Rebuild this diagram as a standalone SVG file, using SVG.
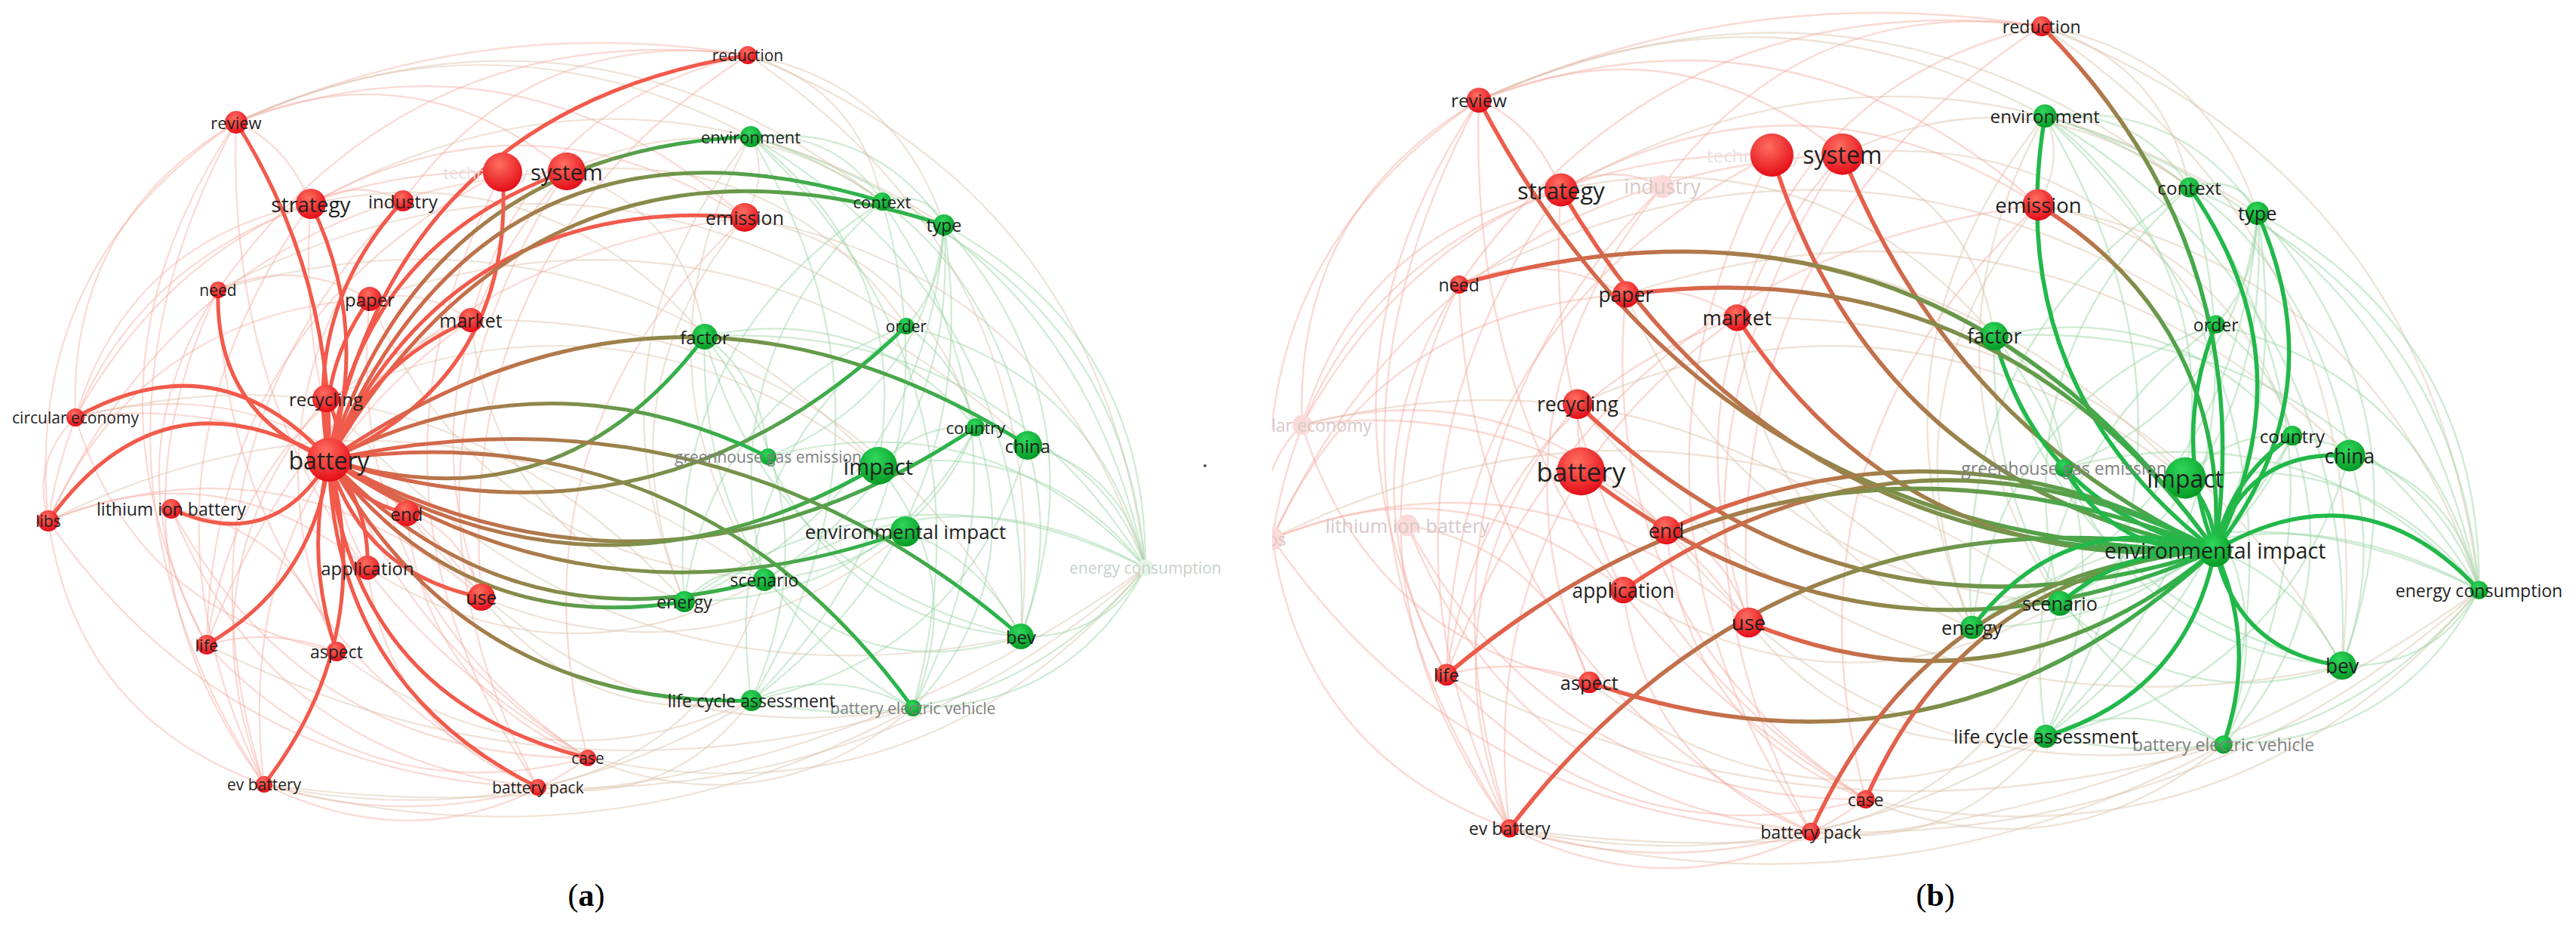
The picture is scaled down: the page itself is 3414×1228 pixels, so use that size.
<svg xmlns="http://www.w3.org/2000/svg" width="3414" height="1228" viewBox="0 0 3414 1228">
<style>
.fw path{fill:none;stroke-width:2.2}
.fp{stroke:#f4aaa0;stroke-opacity:.45}
.fg{stroke:#9fd8aa;stroke-opacity:.5}
.fm{stroke:#d9c2a8;stroke-opacity:.45}
.hl path{fill:none;stroke-width:5;stroke-linecap:round}
.hr{stroke:#f25a4b}
.hg{stroke:#22b84a}
.hm{stroke:url(#rg)}
.nr{fill:url(#gradR)}
.ng{fill:url(#gradG)}
.nfr{fill:#fbdada}
.nfg{fill:#e6f4e8}
text{font-family:"Open Sans","DejaVu Sans",sans-serif;text-anchor:middle;dominant-baseline:central;fill:#1f1f1f}
.te{text-anchor:end}
.gy{fill:#808080}
.fl{fill:#d8c8c8}
.flg{fill:#c8d0ca}
.ft{fill:#e8e0e0}
.f21{font-size:21px}.f22{font-size:22px}.f23{font-size:23px}.f24{font-size:24px}.f25{font-size:25px}.f26{font-size:26px}.f28{font-size:28px}.f29{font-size:29px}.f32{font-size:32px}
.cap{font-family:"Liberation Serif","Times New Roman",serif;font-size:42px;fill:#000;dominant-baseline:auto}
</style>
<defs>
<linearGradient id="rg" x1="0" y1="0" x2="1" y2="0"><stop offset="0" stop-color="#f25a4b"/><stop offset="1" stop-color="#22b84a"/></linearGradient>
<radialGradient id="gradR" cx="0.42" cy="0.3" r="0.8"><stop offset="0" stop-color="#ff6e60"/><stop offset="1" stop-color="#e0000e"/></radialGradient>
<radialGradient id="gradG" cx="0.42" cy="0.3" r="0.8"><stop offset="0" stop-color="#2fd85c"/><stop offset="1" stop-color="#00921d"/></radialGradient>
<clipPath id="clipB"><rect x="64" y="-60" width="1600" height="1200"/></clipPath>
<g id="faint-web" class="fw">
<path class="fp" d="M991,73 Q639,15.5 313,162"/>
<path class="fm" d="M1518,752 Q1458,254 991,73"/>
<path class="fg" d="M1518,752 Q1428,310 995,181"/>
<path class="fg" d="M1518,752 Q1489,405 1169,267"/>
<path class="fg" d="M1210,938 Q1420,937 1518,752"/>
<path class="fm" d="M350,1039 Q991,1129.5 1518,752"/>
<path class="fp" d="M350,1039 Q531,1095.5 713,1043"/>
<path class="fp" d="M64,690 Q102,950.5 350,1039"/>
<path class="fp" d="M100,553 Q41,611 64,690"/>
<path class="fp" d="M313,162 Q89.5,293.5 100,553"/>
<path class="fp" d="M313,162 Q30,351 64,690"/>
<path class="fp" d="M313,162 Q86,496 274,854"/>
<path class="fp" d="M313,162 Q68,612 350,1039"/>
<path class="fp" d="M751,227 Q551.5,63.5 313,162"/>
<path class="fp" d="M987,288 Q688,23 313,162"/>
<path class="fm" d="M1169,267 Q772.5,-42.5 313,162"/>
<path class="fp" d="M412,270 Q112,376 64,690"/>
<path class="fp" d="M412,270 Q150,636 350,1039"/>
<path class="fp" d="M412,270 Q171,318 100,553"/>
<path class="fp" d="M289,384 Q123,730 350,1039"/>
<path class="fp" d="M289,384 Q140.5,614.5 274,854"/>
<path class="fp" d="M534,266 Q311,538 446,863"/>
<path class="fp" d="M751,227 Q487,624 713,1043"/>
<path class="fp" d="M987,288 Q668,584 779,1004"/>
<path class="fp" d="M991,73 Q599,326 638,791"/>
<path class="fp" d="M666,228 Q282,423 274,854"/>
<path class="fp" d="M490,396 Q452,787 779,1004"/>
<path class="fp" d="M624,424 Q302.5,649.5 350,1039"/>
<path class="fp" d="M638,791 Q381,568 64,690"/>
<path class="fp" d="M539,680 Q357.5,484.5 100,553"/>
<path class="fp" d="M487,752 Q294,594 64,690"/>
<path class="fp" d="M446,863 Q393.5,702.5 227,674"/>
<path class="fp" d="M274,854 Q481.5,1080.5 779,1004"/>
<path class="fp" d="M350,1039 Q575,1150 779,1004"/>
<path class="fp" d="M227,674 Q359,1004.5 713,1043"/>
<path class="fg" d="M1169,267 Q1108,172 995,181"/>
<path class="fg" d="M1251,298 Q1158,162.5 995,181"/>
<path class="fg" d="M1353,843 Q1465.5,540 1251,298"/>
<path class="fg" d="M1353,843 Q1373,405 995,181"/>
<path class="fg" d="M1518,752 Q1318,424 934,446"/>
<path class="fg" d="M1518,752 Q1260.5,608.5 1013,768"/>
<path class="fg" d="M996,928 Q1310,997 1518,752"/>
<path class="fg" d="M1518,752 Q1199,591.5 907,797"/>
<path class="fg" d="M1518,752 Q1488.6,624 1362,590"/>
<path class="fg" d="M1518,752 Q1381.5,578.5 1164,617"/>
<path class="fg" d="M1518,752 Q1455.5,497 1201,432"/>
<path class="fg" d="M996,928 Q1280.5,649.5 1169,267"/>
<path class="fg" d="M907,797 Q1229,650.5 1251,298"/>
<path class="fg" d="M1013,768 Q1214,751 1293,566"/>
<path class="fg" d="M1018,605 Q1114.5,824.5 1353,843"/>
<path class="fg" d="M934,446 Q924,775 1210,938"/>
<path class="fm" d="M995,181 Q766,463 907,797"/>
<path class="fg" d="M1169,267 Q941,470.5 1013,768"/>
<path class="fg" d="M1201,432 Q949.5,618.5 996,928"/>
<path class="fg" d="M1362,590 Q1301.5,275.5 995,181"/>
<path class="fg" d="M1210,938 Q1363,777 1293,566"/>
<path class="fm" d="M1169,267 Q972,122 751,227"/>
<path class="fm" d="M934,446 Q726,201 412,270"/>
<path class="fm" d="M1201,432 Q759,134 289,384"/>
<path class="fm" d="M1164,617 Q825,352.5 432,528"/>
<path class="fm" d="M638,791 Q945,916 1200,704"/>
<path class="fm" d="M487,752 Q745,918 1013,768"/>
<path class="fm" d="M446,863 Q701.5,1060.5 996,928"/>
<path class="fm" d="M1353,843 Q1114.5,414.5 624,424"/>
<path class="fm" d="M1362,590 Q984,231 490,396"/>
<path class="fm" d="M539,680 Q797.5,1010 1210,938"/>
<path class="fm" d="M713,1043 Q945.5,995.5 1013,768"/>
<path class="fm" d="M779,1004 Q1224,1100 1518,752"/>
<path class="fm" d="M350,1039 Q800,1160.5 1210,938"/>
<path class="fm" d="M713,1043 Q1173.5,1058.5 1518,752"/>
<path class="fp" d="M64,690 Q300.5,1028.5 713,1043"/>
<path class="fp" d="M100,553 Q180,812 446,863"/>
<path class="fp" d="M991,73 Q704.5,32.5 534,266"/>
<path class="fm" d="M995,181 Q659,1 313,162"/>
<path class="fm" d="M1251,298 Q839.5,32 412,270"/>
<path class="fm" d="M1201,432 Q1037.5,194.5 751,227"/>
<path class="fm" d="M1293,566 Q1223,335 987,288"/>
<path class="fm" d="M1353,843 Q1403,349.4 991,73"/>
<path class="fp" d="M313,162 Q380,190 412,270"/>
<path class="fp" d="M412,270 Q470,235 534,266"/>
<path class="fp" d="M490,396 Q560,380 624,424"/>
<path class="fp" d="M289,384 Q390,340 490,396"/>
<path class="fp" d="M432,528 Q430,650 487,752"/>
<path class="fp" d="M539,680 Q610,700 638,791"/>
<path class="fp" d="M446,863 Q360,830 274,854"/>
<path class="fg" d="M934,446 Q1010,500 1018,605"/>
<path class="fg" d="M1164,617 Q1220,560 1293,566"/>
<path class="fg" d="M907,797 Q960,740 1013,768"/>
<path class="fg" d="M1200,704 Q1300,740 1353,843"/>
<path class="fg" d="M996,928 Q1100,880 1210,938"/>
<path class="fg" d="M1169,267 Q1230,250 1251,298"/>
<path class="fm" d="M995,181 Q1020,230 987,288"/>
<path class="fg" d="M1201,432 Q1270,480 1293,566"/>
<path class="fg" d="M1362,590 Q1400,720 1353,843"/>
<path class="fg" d="M1251,298 Q1250,380 1201,432"/>
<path class="fp" d="M751,227 Q268.5,252.5 64,690"/>
<path class="fp" d="M666,228 Q285.5,220.5 100,553"/>
<path class="fp" d="M987,288 Q460.5,357 274,854"/>
<path class="fp" d="M991,73 Q547,18 289,384"/>
<path class="fp" d="M534,266 Q210,597.5 350,1039"/>
<path class="fp" d="M412,270 Q375.5,747 779,1004"/>
<path class="fp" d="M313,162 Q293.4,723 779,1004"/>
<path class="fp" d="M289,384 Q303,840.5 713,1043"/>
<path class="fp" d="M490,396 Q189,415 64,690"/>
<path class="fp" d="M624,424 Q320,534 274,854"/>
<path class="fp" d="M432,528 Q238,758.5 350,1039"/>
<path class="fp" d="M638,791 Q440,511 100,553"/>
<path class="fp" d="M227,674 Q404,1004.6 779,1004"/>
<path class="fp" d="M487,752 Q513,965.5 713,1043"/>
<path class="fp" d="M539,680 Q562,914 779,1004"/>
<path class="fp" d="M751,227 Q525.5,475 638,791"/>
<path class="fp" d="M666,228 Q445,649.5 713,1043"/>
<path class="fp" d="M991,73 Q702.5,138.5 624,424"/>
<path class="fp" d="M987,288 Q704.5,106.5 412,270"/>
<path class="fg" d="M996,928 Q1219.5,554.5 995,181"/>
<path class="fg" d="M1210,938 Q1390.5,590.5 1169,267"/>
<path class="fg" d="M996,928 Q1312.5,689.5 1251,298"/>
<path class="fg" d="M1013,768 Q1273,604 1251,298"/>
<path class="fg" d="M934,446 Q1024.5,770.5 1353,843"/>
<path class="fg" d="M1293,566 Q1149.5,398 934,446"/>
<path class="fm" d="M995,181 Q828,479.5 1013,768"/>
<path class="fg" d="M1201,432 Q944.5,526.5 907,797"/>
<path class="fg" d="M1169,267 Q879,453.4 907,797"/>
<path class="fg" d="M996,928 Q1280,869 1362,590"/>
<path class="fg" d="M1518,752 Q1312,528.5 1018,605"/>
<path class="fg" d="M1518,752 Q1520.5,445 1251,298"/>
<path class="fg" d="M1518,752 Q1461.5,591.5 1293,566"/>
<path class="fg" d="M1013,768 Q1160.5,907.5 1353,843"/>
<path class="fg" d="M1353,843 Q1462.5,847 1518,752"/>
<path class="fg" d="M1018,605 Q1226.5,521.5 1251,298"/>
<path class="fg" d="M1164,617 Q1210.5,348 995,181"/>
<path class="fg" d="M1210,938 Q1283,763.5 1164,617"/>
<path class="fg" d="M907,797 Q1169,797.5 1293,566"/>
<path class="fg" d="M996,928 Q1109.6,668.4 934,446"/>
<path class="fg" d="M1210,938 Q1329.5,495 995,181"/>
<path class="fm" d="M1169,267 Q1138,117 991,73"/>
<path class="fm" d="M1251,298 Q1188.5,107.5 991,73"/>
<path class="fm" d="M1518,752 Q1391.5,361 987,288"/>
<path class="fm" d="M624,424 Q653.5,695.5 907,797"/>
<path class="fm" d="M638,791 Q776,966.5 996,928"/>
<path class="fm" d="M779,1004 Q1014.5,1100 1210,938"/>
<path class="fm" d="M713,1043 Q889,1070.5 996,928"/>
<path class="fm" d="M987,288 Q794,518.5 907,797"/>
<path class="fm" d="M934,446 Q908.5,281.5 751,227"/>
<path class="fm" d="M490,396 Q640,739 1013,768"/>
<path class="fm" d="M432,528 Q798,961.5 1353,843"/>
<path class="fm" d="M1164,617 Q796.5,238 289,384"/>
<path class="fm" d="M907,797 Q576.5,433 100,553"/>
<path class="fm" d="M1013,768 Q561.5,444 64,690"/>
<path class="fm" d="M274,854 Q725,1083 1210,938"/>
<path class="fm" d="M350,1039 Q695,1112.5 996,928"/>
</g>
</defs>
<rect x="0" y="0" width="3414" height="1228" fill="#ffffff"/>

<g id="panel-a">
<g id="a-connectors">
<use href="#faint-web"/>
<g class="hl">
<path class="hr" d="M436,609 Q526,147 991,73"/>
<path class="hr" d="M436,609 Q442,367 313,162"/>
<path class="hm" d="M436,609 Q566,199 995,181"/>
<path class="hr" d="M436,609 Q684,499 666,228"/>
<path class="hr" d="M436,609 Q479,323 751,227"/>
<path class="hr" d="M436,609 Q492,435 412,270"/>
<path class="hr" d="M436,609 Q399,413 534,266"/>
<path class="hr" d="M436,609 Q599,256 987,288"/>
<path class="hm" d="M436,609 Q649,108 1169,267"/>
<path class="hm" d="M436,609 Q719,127 1251,298"/>
<path class="hr" d="M436,609 Q284,548 289,384"/>
<path class="hr" d="M436,609 Q420,492 490,396"/>
<path class="hr" d="M436,609 Q493,479 624,424"/>
<path class="hm" d="M436,609 Q742,702 934,446"/>
<path class="hm" d="M436,609 Q872,750 1201,432"/>
<path class="hr" d="M436,609 Q458,567 432,528"/>
<path class="hr" d="M436,609 Q290,447 100,553"/>
<path class="hr" d="M436,609 Q214,482 64,690"/>
<path class="hr" d="M436,609 Q361,735 227,674"/>
<path class="hr" d="M436,609 Q473,665 539,680"/>
<path class="hr" d="M436,609 Q490,670 487,752"/>
<path class="hr" d="M436,609 Q482,761 638,791"/>
<path class="hr" d="M436,609 Q416,772 274,854"/>
<path class="hr" d="M436,609 Q403,737 446,863"/>
<path class="hr" d="M436,609 Q500,845 350,1039"/>
<path class="hr" d="M436,609 Q469,927 779,1004"/>
<path class="hr" d="M436,609 Q444,909 713,1043"/>
<path class="hm" d="M436,609 Q877,845 1293,566"/>
<path class="hm" d="M436,609 Q893,294 1362,590"/>
<path class="hm" d="M436,609 Q798,831 1164,617"/>
<path class="hm" d="M436,609 Q794,848 1200,704"/>
<path class="hm" d="M436,609 Q726,462 1018,605"/>
<path class="hm" d="M436,609 Q677,862 1013,768"/>
<path class="hm" d="M436,609 Q615,844 907,797"/>
<path class="hm" d="M436,609 Q953,497 1353,843"/>
<path class="hm" d="M436,609 Q620,937 996,928"/>
<path class="hm" d="M436,609 Q922,541 1210,938"/>
</g>
</g>
<g id="a-nodes">
<g id="a-reduction"><circle cx="991" cy="73" r="12" class="nr"/><text x="991" y="73" class="f21">reduction</text></g>
<g id="a-review"><circle cx="313" cy="162" r="15" class="nr"/><text x="313" y="162" class="f22">review</text></g>
<g id="a-environment"><circle cx="995" cy="181" r="14" class="ng"/><text x="995" y="181" class="f22">environment</text></g>
<g id="a-technology"><text x="700" y="228" class="f22 ft te">technology</text><circle cx="666" cy="228" r="26" class="nr"/></g>
<g id="a-system"><circle cx="751" cy="227" r="25" class="nr"/><text x="751" y="227" class="f29">system</text></g>
<g id="a-strategy"><circle cx="412" cy="270" r="20" class="nr"/><text x="412" y="270" class="f28">strategy</text></g>
<g id="a-industry"><circle cx="534" cy="266" r="14" class="nr"/><text x="534" y="266" class="f24">industry</text></g>
<g id="a-emission"><circle cx="987" cy="288" r="19" class="nr"/><text x="987" y="288" class="f25">emission</text></g>
<g id="a-context"><circle cx="1169" cy="267" r="12" class="ng"/><text x="1169" y="267" class="f22">context</text></g>
<g id="a-type"><circle cx="1251" cy="298" r="14" class="ng"/><text x="1251" y="298" class="f23">type</text></g>
<g id="a-need"><circle cx="289" cy="384" r="11" class="nr"/><text x="289" y="384" class="f21">need</text></g>
<g id="a-paper"><circle cx="490" cy="396" r="16" class="nr"/><text x="490" y="396" class="f24">paper</text></g>
<g id="a-market"><circle cx="624" cy="424" r="16" class="nr"/><text x="624" y="424" class="f25">market</text></g>
<g id="a-factor"><circle cx="934" cy="446" r="17" class="ng"/><text x="934" y="446" class="f24">factor</text></g>
<g id="a-order"><circle cx="1201" cy="432" r="11" class="ng"/><text x="1201" y="432" class="f21">order</text></g>
<g id="a-recycling"><circle cx="432" cy="528" r="18" class="nr"/><text x="432" y="528" class="f24">recycling</text></g>
<g id="a-circular-economy"><circle cx="100" cy="553" r="12" class="nr"/><text x="100" y="553" class="f21">circular economy</text></g>
<g id="a-country"><circle cx="1293" cy="566" r="12" class="ng"/><text x="1293" y="566" class="f22">country</text></g>
<g id="a-china"><circle cx="1362" cy="590" r="19" class="ng"/><text x="1362" y="590" class="f24">china</text></g>
<g id="a-greenhouse-gas-emission"><circle cx="1018" cy="605" r="11" class="ng"/><text x="1018" y="605" class="f21 gy">greenhouse gas emission</text></g>
<g id="a-impact"><circle cx="1164" cy="617" r="25" class="ng"/><text x="1164" y="617" class="f29">impact</text></g>
<g id="a-libs"><circle cx="64" cy="690" r="14" class="nr"/><text x="64" y="690" class="f21">libs</text></g>
<g id="a-lithium-ion-battery"><circle cx="227" cy="674" r="13" class="nr"/><text x="227" y="674" class="f23">lithium ion battery</text></g>
<g id="a-end"><circle cx="539" cy="680" r="17" class="nr"/><text x="539" y="680" class="f24">end</text></g>
<g id="a-environmental-impact"><circle cx="1200" cy="704" r="20" class="ng"/><text x="1200" y="704" class="f26">environmental impact</text></g>
<g id="a-application"><circle cx="487" cy="752" r="16" class="nr"/><text x="487" y="752" class="f24">application</text></g>
<g id="a-energy-consumption"><circle cx="1518" cy="752" r="11" class="nfg"/><text x="1518" y="752" class="f21 flg">energy consumption</text></g>
<g id="a-scenario"><circle cx="1013" cy="768" r="15" class="ng"/><text x="1013" y="768" class="f23">scenario</text></g>
<g id="a-use"><circle cx="638" cy="791" r="18" class="nr"/><text x="638" y="791" class="f25">use</text></g>
<g id="a-energy"><circle cx="907" cy="797" r="14" class="ng"/><text x="907" y="797" class="f23">energy</text></g>
<g id="a-bev"><circle cx="1353" cy="843" r="17" class="ng"/><text x="1353" y="843" class="f24">bev</text></g>
<g id="a-life"><circle cx="274" cy="854" r="13" class="nr"/><text x="274" y="854" class="f22">life</text></g>
<g id="a-aspect"><circle cx="446" cy="863" r="13" class="nr"/><text x="446" y="863" class="f23">aspect</text></g>
<g id="a-battery-electric-vehicle"><circle cx="1210" cy="938" r="11" class="ng"/><text x="1210" y="938" class="f21 gy">battery electric vehicle</text></g>
<g id="a-life-cycle-assessment"><circle cx="996" cy="928" r="14" class="ng"/><text x="996" y="928" class="f23">life cycle assessment</text></g>
<g id="a-case"><circle cx="779" cy="1004" r="11" class="nr"/><text x="779" y="1004" class="f21">case</text></g>
<g id="a-ev-battery"><circle cx="350" cy="1039" r="11" class="nr"/><text x="350" y="1039" class="f21">ev battery</text></g>
<g id="a-battery-pack"><circle cx="713" cy="1043" r="11" class="nr"/><text x="713" y="1043" class="f21">battery pack</text></g>
<g id="a-battery"><circle cx="436" cy="609" r="29" class="nr"/><text x="436" y="609" class="f32">battery</text></g>
</g>
<circle cx="1597" cy="617" r="2" fill="#555"/>
</g>

<g id="panel-b" transform="translate(1615.7,-45.5) scale(1.1)">
<g clip-path="url(#clipB)">
<g id="b-connectors">
<use href="#faint-web"/>
<g class="hl">
<path class="hm" d="M1200,704 Q1253.5,336.5 991,73"/>
<path class="hm" d="M1200,704 Q594,699 313,162"/>
<path class="hg" d="M1200,704 Q940.5,504 995,181"/>
<path class="hm" d="M1200,704 Q790,626 666,228"/>
<path class="hm" d="M1200,704 Q880.5,555.5 751,227"/>
<path class="hm" d="M1200,704 Q676,723 412,270"/>
<path class="hm" d="M1200,704 Q1218.5,432 987,288"/>
<path class="hg" d="M1200,704 Q1315.5,476.5 1169,267"/>
<path class="hg" d="M1200,704 Q1347.5,516 1251,298"/>
<path class="hg" d="M1200,704 Q1146.5,568 1201,432"/>
<path class="hg" d="M1200,704 Q990,655 934,446"/>
<path class="hm" d="M1200,704 Q856.5,225 289,384"/>
<path class="hm" d="M1200,704 Q937,337 490,396"/>
<path class="hm" d="M1200,704 Q828,737 624,424"/>
<path class="hm" d="M1200,704 Q763,846 432,528"/>
<path class="hm" d="M1200,704 Q789.5,885.5 436,609"/>
<path class="hm" d="M1200,704 Q875.5,527 539,680"/>
<path class="hm" d="M1200,704 Q829.5,514 487,752"/>
<path class="hm" d="M1200,704 Q945,916 638,791"/>
<path class="hm" d="M1200,704 Q692,501 274,854"/>
<path class="hm" d="M1200,704 Q871,1009.5 446,863"/>
<path class="hm" d="M1200,704 Q674.5,616.5 350,1039"/>
<path class="hm" d="M1200,704 Q854.5,727.5 713,1043"/>
<path class="hm" d="M1200,704 Q899.5,728 779,1004"/>
<path class="hg" d="M1200,704 Q1199,653.5 1164,617"/>
<path class="hg" d="M1200,704 Q1218.5,616 1293,566"/>
<path class="hg" d="M1200,704 Q1235,582 1362,590"/>
<path class="hg" d="M1200,704 Q1079,709.5 1018,605"/>
<path class="hg" d="M1200,704 Q1378,601 1518,752"/>
<path class="hg" d="M1200,704 Q1093.5,699 1013,768"/>
<path class="hg" d="M1200,704 Q1021,648 907,797"/>
<path class="hg" d="M1200,704 Q1228,827 1353,843"/>
<path class="hg" d="M1200,704 Q1165,877 996,928"/>
<path class="hg" d="M1200,704 Q1252,819 1210,938"/>
</g>
</g>
<g id="b-nodes">
<g id="b-reduction"><circle cx="991" cy="73" r="12" class="nr"/><text x="991" y="73" class="f21">reduction</text></g>
<g id="b-review"><circle cx="313" cy="162" r="15" class="nr"/><text x="313" y="162" class="f22">review</text></g>
<g id="b-environment"><circle cx="995" cy="181" r="14" class="ng"/><text x="995" y="181" class="f22">environment</text></g>
<g id="b-technology"><text x="700" y="228" class="f22 ft te">technology</text><circle cx="666" cy="228" r="26" class="nr"/></g>
<g id="b-system"><circle cx="751" cy="227" r="25" class="nr"/><text x="751" y="227" class="f29">system</text></g>
<g id="b-strategy"><circle cx="412" cy="270" r="20" class="nr"/><text x="412" y="270" class="f28">strategy</text></g>
<g id="b-industry"><circle cx="534" cy="266" r="14" class="nfr"/><text x="534" y="266" class="f24 fl">industry</text></g>
<g id="b-emission"><circle cx="987" cy="288" r="19" class="nr"/><text x="987" y="288" class="f25">emission</text></g>
<g id="b-context"><circle cx="1169" cy="267" r="12" class="ng"/><text x="1169" y="267" class="f22">context</text></g>
<g id="b-type"><circle cx="1251" cy="298" r="14" class="ng"/><text x="1251" y="298" class="f23">type</text></g>
<g id="b-need"><circle cx="289" cy="384" r="11" class="nr"/><text x="289" y="384" class="f21">need</text></g>
<g id="b-paper"><circle cx="490" cy="396" r="16" class="nr"/><text x="490" y="396" class="f24">paper</text></g>
<g id="b-market"><circle cx="624" cy="424" r="16" class="nr"/><text x="624" y="424" class="f25">market</text></g>
<g id="b-factor"><circle cx="934" cy="446" r="17" class="ng"/><text x="934" y="446" class="f24">factor</text></g>
<g id="b-order"><circle cx="1201" cy="432" r="11" class="ng"/><text x="1201" y="432" class="f21">order</text></g>
<g id="b-recycling"><circle cx="432" cy="528" r="18" class="nr"/><text x="432" y="528" class="f24">recycling</text></g>
<g id="b-circular-economy"><circle cx="100" cy="553" r="12" class="nfr"/><text x="100" y="553" class="f21 fl">circular economy</text></g>
<g id="b-country"><circle cx="1293" cy="566" r="12" class="ng"/><text x="1293" y="566" class="f22">country</text></g>
<g id="b-china"><circle cx="1362" cy="590" r="19" class="ng"/><text x="1362" y="590" class="f24">china</text></g>
<g id="b-greenhouse-gas-emission"><circle cx="1018" cy="605" r="11" class="ng"/><text x="1018" y="605" class="f21 gy">greenhouse gas emission</text></g>
<g id="b-impact"><circle cx="1164" cy="617" r="25" class="ng"/><text x="1164" y="617" class="f29">impact</text></g>
<g id="b-libs"><circle cx="64" cy="690" r="14" class="nfr"/><text x="64" y="690" class="f21 fl">libs</text></g>
<g id="b-lithium-ion-battery"><circle cx="227" cy="674" r="13" class="nfr"/><text x="227" y="674" class="f23 fl">lithium ion battery</text></g>
<g id="b-end"><circle cx="539" cy="680" r="17" class="nr"/><text x="539" y="680" class="f24">end</text></g>
<g id="b-application"><circle cx="487" cy="752" r="16" class="nr"/><text x="487" y="752" class="f24">application</text></g>
<g id="b-energy-consumption"><circle cx="1518" cy="752" r="11" class="ng"/><text x="1518" y="752" class="f21">energy consumption</text></g>
<g id="b-scenario"><circle cx="1013" cy="768" r="15" class="ng"/><text x="1013" y="768" class="f23">scenario</text></g>
<g id="b-use"><circle cx="638" cy="791" r="18" class="nr"/><text x="638" y="791" class="f25">use</text></g>
<g id="b-energy"><circle cx="907" cy="797" r="14" class="ng"/><text x="907" y="797" class="f23">energy</text></g>
<g id="b-bev"><circle cx="1353" cy="843" r="17" class="ng"/><text x="1353" y="843" class="f24">bev</text></g>
<g id="b-life"><circle cx="274" cy="854" r="13" class="nr"/><text x="274" y="854" class="f22">life</text></g>
<g id="b-aspect"><circle cx="446" cy="863" r="13" class="nr"/><text x="446" y="863" class="f23">aspect</text></g>
<g id="b-battery-electric-vehicle"><circle cx="1210" cy="938" r="11" class="ng"/><text x="1210" y="938" class="f21 gy">battery electric vehicle</text></g>
<g id="b-life-cycle-assessment"><circle cx="996" cy="928" r="14" class="ng"/><text x="996" y="928" class="f23">life cycle assessment</text></g>
<g id="b-case"><circle cx="779" cy="1004" r="11" class="nr"/><text x="779" y="1004" class="f21">case</text></g>
<g id="b-ev-battery"><circle cx="350" cy="1039" r="11" class="nr"/><text x="350" y="1039" class="f21">ev battery</text></g>
<g id="b-battery-pack"><circle cx="713" cy="1043" r="11" class="nr"/><text x="713" y="1043" class="f21">battery pack</text></g>
<g id="b-battery"><circle cx="436" cy="609" r="29" class="nr"/><text x="436" y="609" class="f32">battery</text></g>
<g id="b-environmental-impact"><circle cx="1200" cy="704" r="20" class="ng"/><text x="1200" y="704" class="f26">environmental impact</text></g>
</g>
</g>
</g>

<text class="cap" x="777" y="1200">(<tspan font-weight="bold">a</tspan>)</text>
<text class="cap" x="2565" y="1200">(<tspan font-weight="bold">b</tspan>)</text>
</svg>
